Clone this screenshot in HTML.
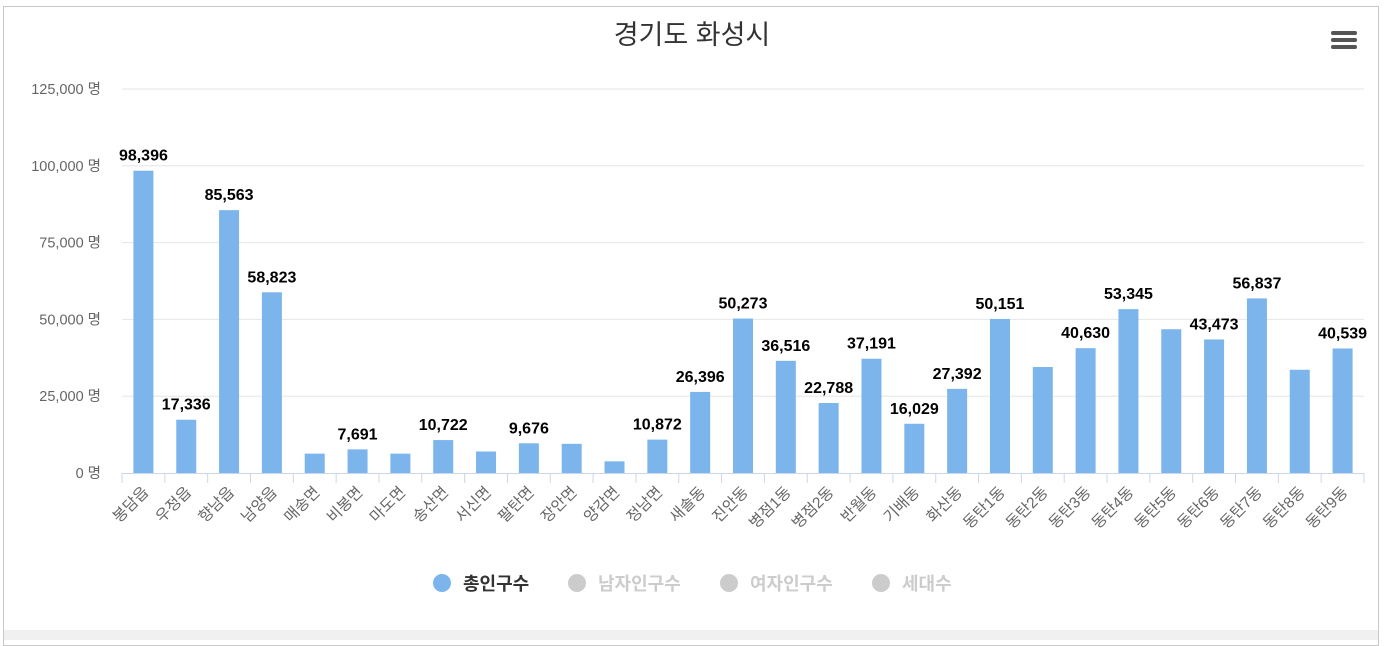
<!DOCTYPE html>
<html><head><meta charset="utf-8"><style>
body{margin:0;width:1385px;height:640px;overflow:hidden;background:#fff;font-family:"Liberation Sans","Noto Sans CJK KR",sans-serif}
#frame{position:absolute;left:3px;top:6px;width:1376px;height:640px;border:1px solid #c8c8c8;box-sizing:border-box}
#strip{position:absolute;left:4px;top:630px;width:1374px;height:10px;background:#f0f0f0}
</style></head><body>
<div id="frame"></div>
<div id="strip"></div>
<svg id="c" width="1385" height="640" style="position:absolute;left:0;top:0"></svg>
<script>
const categories=["봉담읍","우정읍","향남읍","남양읍","매송면","비봉면","마도면","송산면","서신면","팔탄면","장안면","양감면","정남면","새솔동","진안동","병점1동","병점2동","반월동","기배동","화산동","동탄1동","동탄2동","동탄3동","동탄4동","동탄5동","동탄6동","동탄7동","동탄8동","동탄9동"];
const totalPop=[98396,17336,85563,58823,6300,7691,6300,10722,7000,9676,9500,3800,10872,26396,50273,36516,22788,37191,16029,27392,50151,34500,40630,53345,46800,43473,56837,33600,40539];
const showLabel=[1,1,1,1,0,1,0,1,0,1,0,0,1,1,1,1,1,1,1,1,1,0,1,1,0,1,1,0,1];
const yTicks=[0,25000,50000,75000,100000,125000];
const legendItems=["총인구수","남자인구수","여자인구수","세대수"];
const svg=document.getElementById('c');const NS='http://www.w3.org/2000/svg';
function mk(t,a,txt){const e=document.createElementNS(NS,t);for(const k in a)e.setAttribute(k,a[k]);if(txt!=null)e.textContent=txt;svg.appendChild(e);return e;}
const X0=122,X1=1364,Y0=473,Y1=89,YMAX=125000;
const band=(X1-X0)/categories.length;
const y=v=>Y0-(v/YMAX)*(Y0-Y1);
const xc=i=>X0+band*(i+0.5);
let t=mk('text',{x:692,y:44,'text-anchor':'middle','font-size':27,fill:'#333'},'경기도 화성시');


let m=mk('g',{});


for(let k=0;k<3;k++){const r=document.createElementNS(NS,'rect');r.setAttribute('x',1331);r.setAttribute('y',31+k*7);r.setAttribute('width',26);r.setAttribute('height',4);r.setAttribute('rx',2);r.setAttribute('fill','#555');m.appendChild(r);}
yTicks.forEach(v=>{
 if(v>0){const g=mk('line',{x1:X0,x2:X1,y1:y(v),y2:y(v),stroke:'#e6e6e6'});}
 const l=mk('text',{x:101,y:y(v)+5,'text-anchor':'end','font-size':14.5,fill:'#666'},v.toLocaleString('en-US')+' 명');
 
 
});
let ax=mk('line',{x1:X0,x2:X1,y1:Y0+0.5,y2:Y0+0.5,stroke:'#ccd6eb'});


for(let i=0;i<=categories.length;i++){const tk=mk('line',{x1:X0+band*i,x2:X0+band*i,y1:Y0,y2:Y0+10,stroke:'#ccd6eb'});}
categories.forEach((c,i)=>{
 const v=totalPop[i];const bw=20;
 const b=mk('rect',{x:xc(i)-bw/2,y:y(v),width:bw,height:Y0-y(v),fill:'#7cb5ec'});
 
 
 if(showLabel[i]){const dl=mk('text',{x:xc(i),y:y(v)-10,'text-anchor':'middle','font-size':16,'font-weight':'bold',fill:'#000'},v.toLocaleString('en-US'));
 
 }
 const xl=mk('text',{x:xc(i)+6,y:Y0+20,'text-anchor':'end','font-size':15.5,fill:'#666',transform:`rotate(-45 ${xc(i)+6} ${Y0+20})`},c);
 
 
});
const lx=[442,577,729,881];
legendItems.forEach((s,i)=>{
 const g=mk('g',{});
 
 
 const on=i===0;
 const ci=document.createElementNS(NS,'circle');ci.setAttribute('cx',lx[i]);ci.setAttribute('cy',583);ci.setAttribute('r',9);ci.setAttribute('fill',on?'#7cb5ec':'#ccc');g.appendChild(ci);
 const tx=document.createElementNS(NS,'text');tx.setAttribute('x',lx[i]+21);tx.setAttribute('y',590);tx.setAttribute('font-size',18);tx.setAttribute('font-weight','bold');tx.setAttribute('fill',on?'#333':'#ccc');tx.textContent=s;g.appendChild(tx);
});
</script>
</body></html>
